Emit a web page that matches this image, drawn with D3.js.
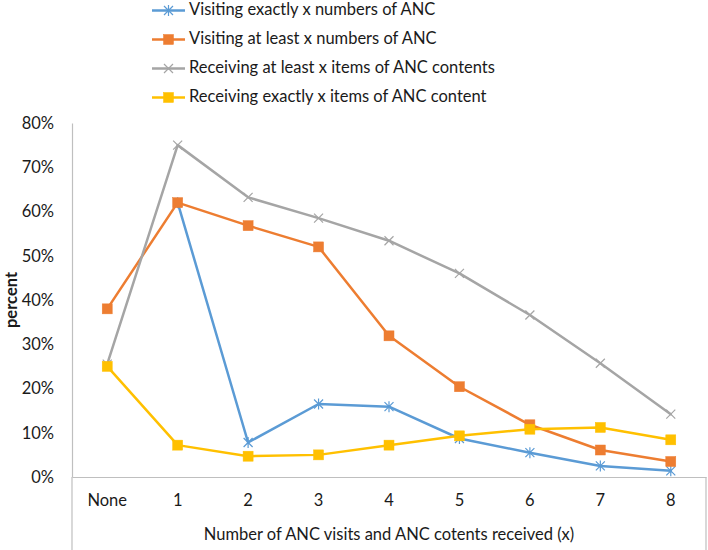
<!DOCTYPE html>
<html>
<head>
<meta charset="utf-8">
<script src="https://cdn.jsdelivr.net/npm/d3@7"></script>
<style>
  html, body { margin: 0; padding: 0; background: #fff; }
  svg { display: block; font-family: Lato, "Open Sans", sans-serif; }
</style>
</head>
<body>
<svg id="chart" width="708" height="550"></svg>
<script>
const categories = ["None", "1", "2", "3", "4", "5", "6", "7", "8"];
const visitExact   = [null, 0.62, 0.078, 0.165, 0.159, 0.087, 0.055, 0.025, 0.014];
const visitAtLeast = [0.38, 0.62, 0.568, 0.52, 0.319, 0.204, 0.118, 0.061, 0.035];
const recvAtLeast  = [0.255, 0.75, 0.632, 0.585, 0.534, 0.46, 0.366, 0.257, 0.142];
const recvExact    = [0.25, 0.072, 0.047, 0.05, 0.072, 0.093, 0.108, 0.112, 0.084];
const seriesNames = [
  "Visiting exactly x numbers of ANC",
  "Visiting at least x numbers of ANC",
  "Receiving at least x items of ANC contents",
  "Receiving exactly x items of ANC content"
];
const yTicks = [0, 0.1, 0.2, 0.3, 0.4, 0.5, 0.6, 0.7, 0.8];
const xTitle = "Number of ANC visits and ANC cotents received (x)";
const yTitle = "percent";

const series = [
  { name: seriesNames[0], values: visitExact,   color: "#5B9BD5", marker: "star" },
  { name: seriesNames[1], values: visitAtLeast, color: "#ED7D31", marker: "square" },
  { name: seriesNames[2], values: recvAtLeast,  color: "#A5A5A5", marker: "x" },
  { name: seriesNames[3], values: recvExact,    color: "#FFC000", marker: "square" }
];

const svg = d3.select("#chart");
const plotLeft = 72, plotRight = 706, plotTop = 123, plotBottom = 477;

const x = d3.scaleBand().domain(categories).range([plotLeft, plotRight]).padding(0);
const y = d3.scaleLinear().domain([0, 0.8]).range([plotBottom, plotTop]);
const cx = c => x(c) + x.bandwidth() / 2;

const axisColor = "#BFBFBF";
const textColor = "#1a1a1a";

// Y axis
const yAxis = svg.append("g").attr("transform", `translate(${plotLeft},0)`)
  .call(d3.axisLeft(y).tickValues(yTicks).tickFormat(d3.format(".0%")).tickSize(0).tickPadding(18));
yAxis.select(".domain").attr("stroke", axisColor).attr("stroke-width", 1.2);
yAxis.selectAll("text").attr("font-size", 16.5).attr("fill", textColor).attr("font-family", "Lato, sans-serif");

// X axis
const xAxis = svg.append("g").attr("transform", `translate(0,${plotBottom})`)
  .call(d3.axisBottom(x).tickSize(0).tickPadding(17));
xAxis.select(".domain").attr("stroke", axisColor).attr("stroke-width", 1.2);
xAxis.selectAll("text").attr("font-size", 16.5).attr("fill", textColor).attr("font-family", "Lato, sans-serif");

// Box below x axis
svg.append("line").attr("x1", plotRight).attr("x2", plotRight).attr("y1", plotBottom).attr("y2", 550)
  .attr("stroke", axisColor).attr("stroke-width", 1.2);
svg.append("line").attr("x1", plotLeft).attr("x2", plotLeft).attr("y1", plotBottom).attr("y2", 550)
  .attr("stroke", axisColor).attr("stroke-width", 1.2);

// Axis titles
svg.append("text").attr("x", (plotLeft + plotRight) / 2).attr("y", 536)
  .attr("text-anchor", "middle").attr("dominant-baseline", "middle")
  .attr("font-size", 16.5).attr("fill", textColor).text(xTitle);
svg.append("text").attr("transform", `translate(17,${(plotTop + plotBottom) / 2}) rotate(-90)`)
  .attr("text-anchor", "middle")
  .attr("font-size", 16.5).attr("font-weight", "bold").attr("fill", textColor).text(yTitle);

function drawMarker(g, type, color, px, py) {
  if (type === "square") {
    g.append("rect").attr("x", px - 5).attr("y", py - 5).attr("width", 10).attr("height", 10)
      .attr("fill", color).attr("stroke", color).attr("stroke-width", 0.5);
  } else if (type === "x") {
    const s = 4.5;
    g.append("path").attr("d", `M${px - s},${py - s}L${px + s},${py + s}M${px - s},${py + s}L${px + s},${py - s}`)
      .attr("stroke", color).attr("stroke-width", 1.2).attr("fill", "none");
  } else if (type === "star") {
    const s = 4.5;
    g.append("path").attr("d", `M${px - s},${py - s}L${px + s},${py + s}M${px - s},${py + s}L${px + s},${py - s}M${px},${py - s - 1}L${px},${py + s + 1}`)
      .attr("stroke", color).attr("stroke-width", 1.2).attr("fill", "none");
  }
}

// Lines
const line = d3.line()
  .defined(d => d.v !== null)
  .x(d => cx(d.c))
  .y(d => y(d.v));

series.forEach(s => {
  const pts = categories.map((c, i) => ({ c, v: s.values[i] }));
  const g = svg.append("g");
  g.append("path").datum(pts).attr("d", line)
    .attr("fill", "none").attr("stroke", s.color).attr("stroke-width", 2.5)
    .attr("stroke-linejoin", "round").attr("stroke-linecap", "round");
  pts.filter(d => d.v !== null).forEach(d => drawMarker(g, s.marker, s.color, cx(d.c), y(d.v)));
});

// Legend
const legend = svg.append("g");
series.forEach((s, i) => {
  const ly = 10.5 + i * 29;
  const g = legend.append("g");
  g.append("line").attr("x1", 152).attr("x2", 185).attr("y1", ly).attr("y2", ly)
    .attr("stroke", s.color).attr("stroke-width", 2.5);
  drawMarker(g, s.marker, s.color, 168.5, ly);
  g.append("text").attr("x", 189).attr("y", ly).attr("dominant-baseline", "middle")
    .attr("font-size", 16.5).attr("fill", textColor).text(s.name);
});
</script>
</body>
</html>
